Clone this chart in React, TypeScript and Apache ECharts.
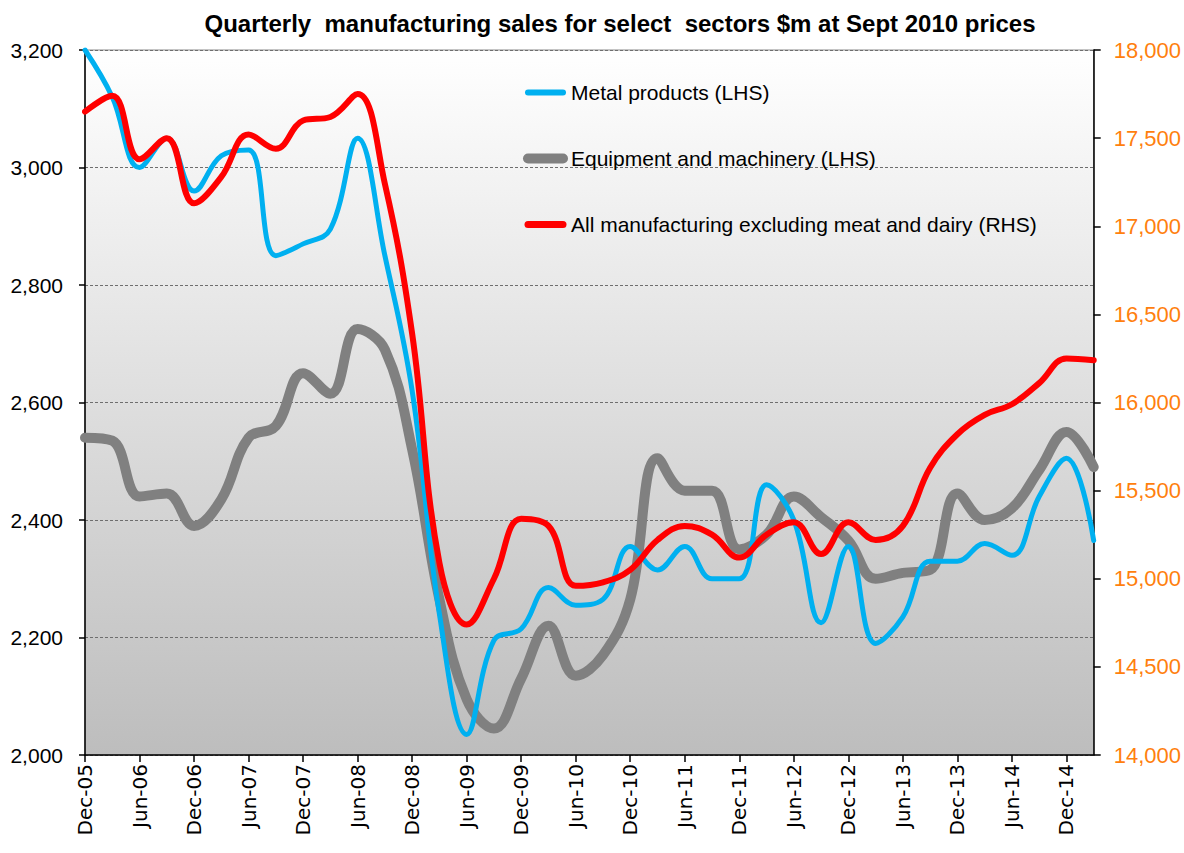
import React, { useEffect, useRef } from "react";
import * as echarts from "echarts";

const quarters = [
  "Dec-05", "Mar-06", "Jun-06", "Sep-06", "Dec-06", "Mar-07", "Jun-07", "Sep-07",
  "Dec-07", "Mar-08", "Jun-08", "Sep-08", "Dec-08", "Mar-09", "Jun-09", "Sep-09",
  "Dec-09", "Mar-10", "Jun-10", "Sep-10", "Dec-10", "Mar-11", "Jun-11", "Sep-11",
  "Dec-11", "Mar-12", "Jun-12", "Sep-12", "Dec-12", "Mar-13", "Jun-13", "Sep-13",
  "Dec-13", "Mar-14", "Jun-14", "Sep-14", "Dec-14", "Mar-15",
];

const metalProducts = [
  3200, 3120, 3000, 3050, 2960, 3020, 3030, 2850,
  2870, 2895, 3050, 2850, 2620, 2240, 2035, 2195,
  2215, 2285, 2255, 2265, 2355, 2315, 2355, 2300,
  2300, 2460, 2400, 2225, 2355, 2190, 2235, 2330,
  2330, 2360, 2340, 2440, 2505, 2365,
];

const equipmentMachinery = [
  2540, 2535, 2440, 2445, 2390, 2435, 2540, 2560,
  2650, 2615, 2725, 2690, 2520, 2265, 2095, 2045,
  2130, 2220, 2135, 2170, 2265, 2505, 2450, 2450,
  2350, 2375, 2440, 2405, 2365, 2300, 2310, 2315,
  2445, 2400, 2420, 2485, 2550, 2490,
];

const allManufacturing = [
  17650, 17740, 17380, 17500, 17130, 17280, 17520, 17440,
  17600, 17620, 17750, 17240, 16390, 15090, 14740, 15000,
  15340, 15300, 14960, 14980, 15050, 15220, 15300, 15250,
  15120, 15250, 15320, 15140, 15320, 15220, 15300, 15630,
  15820, 15930, 15990, 16110, 16250, 16240,
];

const TITLE = "Quarterly  manufacturing sales for select  sectors $m at Sept 2010 prices";
const NAME_METAL = "Metal products (LHS)";
const NAME_EQUIP = "Equipment and machinery (LHS)";
const NAME_ALL = "All manufacturing excluding meat and dairy (RHS)";

const NARROW = "'Liberation Sans Narrow', 'Arial Narrow', 'Liberation Sans', Arial, sans-serif";
const WIDE = "'DejaVu Sans', 'Liberation Sans', Arial, sans-serif";

const BLUE = "#00b0f0";
const GRAY = "#808080";
const RED = "#ff0000";

const fmt = (v: number) => v.toLocaleString("en-US");

export default function App() {
  const ref = useRef<HTMLDivElement>(null);

  useEffect(() => {
    if (!ref.current) return;
    const chart = echarts.init(ref.current, undefined, { renderer: "svg" });
    chart.setOption({
      animation: false,
      backgroundColor: "#ffffff",
      title: {
        text: TITLE,
        left: 615,
        top: 6,
        textAlign: "center",
        textStyle: { fontFamily: NARROW, fontSize: 24, fontWeight: "bold", color: "#000" },
      },
      legend: {
        orient: "vertical",
        left: 518,
        top: 77,
        itemWidth: 35,
        itemHeight: 14,
        itemGap: 45,
        textStyle: { fontFamily: NARROW, fontSize: 21, color: "#000", padding: [0, 0, 0, 3] },
        data: [
          { name: NAME_METAL, itemStyle: { opacity: 0 }, lineStyle: { width: 6, cap: "round", color: BLUE } },
          { name: NAME_EQUIP, itemStyle: { opacity: 0 }, lineStyle: { width: 10, cap: "round", color: GRAY } },
          { name: NAME_ALL, itemStyle: { opacity: 0 }, lineStyle: { width: 7, cap: "round", color: RED } },
        ],
      },
      grid: {
        left: 85,
        right: 86,
        top: 50,
        bottom: 98,
        show: true,
        borderWidth: 1,
        borderColor: "#8a8a8a",
        backgroundColor: new echarts.graphic.LinearGradient(0, 0, 0, 1, [
          { offset: 0, color: "#ffffff" },
          { offset: 1, color: "#bdbdbd" },
        ]),
      },
      xAxis: {
        type: "category",
        data: quarters,
        boundaryGap: false,
        axisLine: { show: true, lineStyle: { color: "#000", width: 1.5 } },
        axisTick: { show: true, interval: 1, length: 7, lineStyle: { color: "#000", width: 1.5 } },
        axisLabel: {
          interval: 1,
          rotate: 90,
          margin: 9,
          fontFamily: WIDE,
          fontSize: 20,
          color: "#000",
        },
        splitLine: { show: false },
      },
      yAxis: [
        {
          type: "value",
          min: 2000,
          max: 3200,
          interval: 200,
          axisLine: { show: true, lineStyle: { color: "#000", width: 1.5 } },
          axisTick: { show: true, length: 6, lineStyle: { color: "#000", width: 1.5 } },
          axisLabel: {
            margin: 22,
            fontFamily: NARROW,
            fontSize: 21,
            color: "#000",
            formatter: fmt,
          },
          splitLine: { show: true, lineStyle: { color: "#6e6e6e", type: [3, 2], width: 1 } },
        },
        {
          type: "value",
          min: 14000,
          max: 18000,
          interval: 500,
          position: "right",
          axisLine: { show: true, lineStyle: { color: "#000", width: 1.5 } },
          axisTick: { show: true, length: 7, lineStyle: { color: "#000", width: 1.5 } },
          axisLabel: {
            margin: 20,
            fontFamily: NARROW,
            fontSize: 22,
            color: "#ff7f0e",
            formatter: fmt,
          },
          splitLine: { show: false },
        },
      ],
      series: [
        {
          name: NAME_EQUIP,
          type: "line",
          yAxisIndex: 0,
          data: equipmentMachinery,
          smooth: 0.4,
          symbol: "none",
          lineStyle: { color: GRAY, width: 10, cap: "round", join: "round" },
          itemStyle: { color: GRAY },
        },
        {
          name: NAME_METAL,
          type: "line",
          yAxisIndex: 0,
          data: metalProducts,
          smooth: 0.4,
          symbol: "none",
          lineStyle: { color: BLUE, width: 5, cap: "round", join: "round" },
          itemStyle: { color: BLUE },
        },
        {
          name: NAME_ALL,
          type: "line",
          yAxisIndex: 1,
          data: allManufacturing,
          smooth: 0.4,
          symbol: "none",
          lineStyle: { color: RED, width: 6, cap: "round", join: "round" },
          itemStyle: { color: RED },
        },
      ],
    });
    return () => chart.dispose();
  }, []);

  return (
    <div
      ref={ref}
      style={{ position: "absolute", left: 0, top: 0, width: 1184, height: 853 }}
    />
  );
}
